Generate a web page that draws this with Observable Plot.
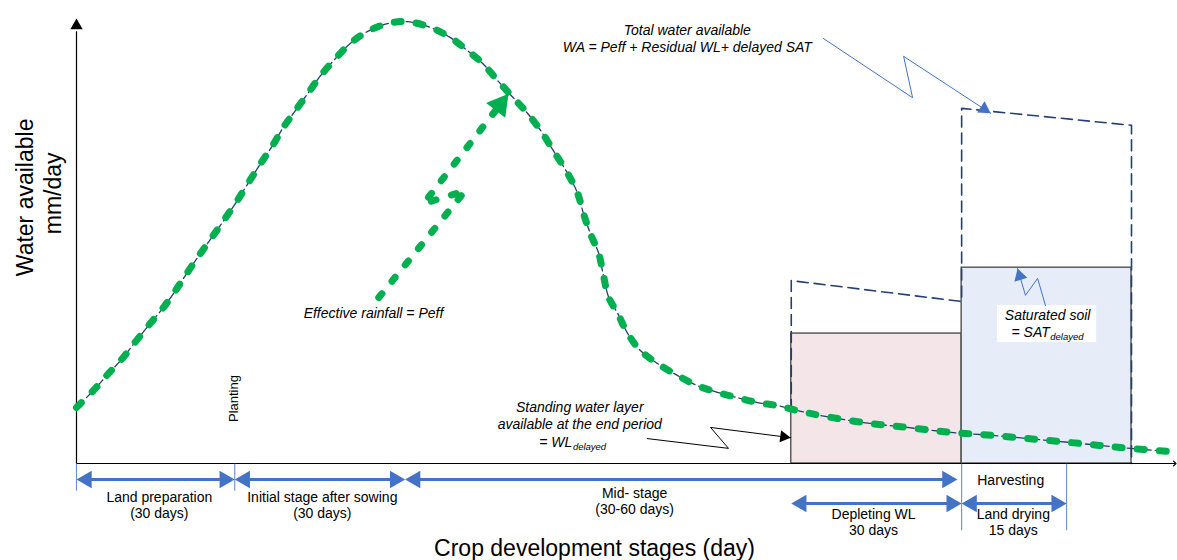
<!DOCTYPE html>
<html><head><meta charset="utf-8">
<script src="https://cdn.jsdelivr.net/npm/d3@7"></script>
<script src="https://cdn.jsdelivr.net/npm/@observablehq/plot@0.6"></script>
<style>body{margin:0;background:#fff} #chart svg{display:block}</style>
</head><body><div id="chart"></div>
<script>
// ---------- data (x: day, y: water available mm/day, arbitrary units) ----------
// Effective rainfall curve
const peffDay = [0,3.2,5.9,8.7,11.2,14.0,16.5,18.8,21.0,23.5,25.9,28.2,30.5,32.6,34.9,37.2,39.2,41.5,44.0,46.3,49.1,51.9,55.2,59.1,62.7,67.1,70.9,74.1,77.0,79.8,82.8,85.5,88.0,90.4,93.1,95.0,96.1,97.4,99.0,99.9,100.9,102.6,104.5,106.9,110.1,113.9,117.7,121.5,125.3,129.1,132.9,136.7,141.0,149.2,157.5,165.7,173.8,182.2,190.3,197.9,207.0];
const peffValue = [12.6,16.4,20.0,23.6,27.4,31.5,35.1,38.9,42.9,47.2,51.2,55.1,59.1,63.1,67.4,71.5,75.5,79.3,83.4,87.2,91.0,94.4,97.1,98.9,99.3,98.0,95.7,92.8,89.9,86.1,82.2,78.7,74.8,70.3,65.2,60.7,56.2,51.7,47.2,42.2,37.3,33.7,29.2,25.4,22.5,19.8,17.5,16.0,14.8,13.7,13.0,11.9,10.8,9.2,8.1,7.0,6.3,5.4,4.5,3.6,2.7];
// Total water available envelope (dashed)
const waDay = [135.5,135.5,167.8,167.8,200,200];
const waValue = [11.9,41.1,36.4,79.8,76.0,0];
// Storage boxes
const boxNames = ["WL delayed","SAT delayed"];
const boxStart = [135.5,167.8];
const boxEnd = [167.8,200];
const boxTop = [29.2,44.0];
// Stage arrows
const stageNames = ["Land preparation","Initial stage after sowing","Mid- stage","Depleting WL","Land drying"];
const stageDurations = ["(30 days)","(30 days)","(30-60 days)","30 days","15 days"];
const stageStart = [0,30,62.3,135.5,167.8];
const stageEnd = [30,62.3,167.0,167.8,187.7];
const stageRow = [1,1,1,2,2];
const stageLabelDay = [15.7,46.6,105.8,151.1,177.6];
// Stage boundary ticks
const tickDay = [0,30,167.8,187.7];
const tickRow = [1,1,2,2];
// Effective-rainfall arrow (lightning shape)
const rainDay = [57.3,73.7,65.8,81.9];
const rainValue = [37.3,61.3,58.4,83.1];
// Callout lightning lines
const waCallDay = [141.6,158.5,156.8,173.3];
const waCallValue = [95.5,82.2,91.5,78.7];
const wlCallDay = [108.2,123.6,120.2,135.4];
const wlCallValue = [5.6,3.4,8.1,5.8];
const satCallDay = [183.7,182.2,179.9,178.4];
const satCallValue = [35.5,41.6,37.8,43.8];

// ---------- layout ----------
const W = 1177, H = 560, mL = 76, mR = 46, mT = 18, mB = 97;
const X0 = 0, X1 = 200, Y0 = 0, Y1 = 100;
const kx = (W - mL - mR) / (X1 - X0), ky = (H - mT - mB) / (Y1 - Y0);
const py = p => (H - mB - p) / ky; // pixel offset helper for annotation rows
const rowY = {1: -3.6, 2: -9.0};
const tickLow = {1: -6.1, 2: -15.0};

const zip = (xs, ys) => xs.map((x, i) => ({x, y: ys[i]}));
const peff = zip(peffDay, peffValue);
const wa = zip(waDay, waValue);
const rain = zip(rainDay, rainValue);
const waCall = zip(waCallDay, waCallValue);
const wlCall = zip(wlCallDay, wlCallValue);
const satCall = zip(satCallDay, satCallValue);
const boxes = boxNames.map((n, i) => ({name: n, x1: boxStart[i], x2: boxEnd[i], y1: 0, y2: boxTop[i]}));
const stages = stageNames.map((n, i) => ({name: n, dur: stageDurations[i], x1: stageStart[i], x2: stageEnd[i], row: stageRow[i], lx: stageLabelDay[i]}));
const ticks = tickDay.map((d, i) => ({x: d, row: tickRow[i]}));

// arrowhead (triangle dot) whose tip lands at p1, pointing along p0->p1
function head(p0, p1, r) {
  const dxp = (p1.x - p0.x) * kx, dyp = -(p1.y - p0.y) * ky;
  const len = Math.hypot(dxp, dyp), ux = dxp / len, uy = dyp / len;
  const off = 1.555 * r;
  return {x: p1.x - ux * off / kx, y: p1.y + uy * off / ky, rotate: Math.atan2(ux, -uy) * 180 / Math.PI};
}
const last2 = a => [a[a.length - 2], a[a.length - 1]];
const stageHeads = stages.flatMap(s => {
  const y = rowY[s.row];
  return [head({x: s.x2, y}, {x: s.x1, y}, 6.5), head({x: s.x1, y}, {x: s.x2, y}, 6.5)];
});

const blue = "#4472C4", navy = "#243F73", green = "#00B050";
const font = "'Liberation Sans', Arial, Helvetica, sans-serif";

const chart = Plot.plot({
  width: W, height: H, marginLeft: mL, marginRight: mR, marginTop: mT, marginBottom: mB,
  x: {domain: [X0, X1], axis: null},
  y: {domain: [Y0, Y1], axis: null},
  color: {domain: boxNames, range: ["#F4E6E8", "#E6EDF8"]},
  style: {fontFamily: font, background: "#fff", overflow: "visible"},
  marks: [
    // storage boxes
    Plot.rect(boxes, {x1: "x1", x2: "x2", y1: "y1", y2: "y2", fill: "name", stroke: "#505050", strokeWidth: 1.4}),
    // total water envelope
    Plot.line(wa, {x: "x", y: "y", stroke: navy, strokeWidth: 1.6, strokeDasharray: "11,6"}),
    // axes
    Plot.ruleX([0], {y1: 0, y2: 97, stroke: "#000", strokeWidth: 1.2}),
    Plot.dot([head({x: 0, y: 90}, {x: 0, y: 100}, 4.6)], {x: "x", y: "y", rotate: "rotate", symbol: "triangle", r: 4.6, fill: "#000"}),
    Plot.line([{x: 0, y: 0}, {x: 208.2, y: 0}], {x: "x", y: "y", stroke: "#000", strokeWidth: 1.2, markerEnd: "arrow"}),
    // effective rainfall curve
    Plot.line(peff, {x: "x", y: "y", curve: "catmull-rom", stroke: navy, strokeWidth: 1.3, strokeDasharray: "10,4"}),
    Plot.line(peff, {x: "x", y: "y", curve: "catmull-rom", stroke: green, strokeWidth: 7, strokeDasharray: "7,15", strokeLinecap: "round"}),
    // rain arrow
    Plot.line(rain.slice(0, -1).concat([head(...last2(rain), 6)]), {x: "x", y: "y", stroke: green, strokeWidth: 7, strokeDasharray: "5,16", strokeLinecap: "round"}),
    Plot.dot([head(...last2(rain), 9)], {x: "x", y: "y", rotate: "rotate", symbol: "triangle", r: 9, fill: green}),
    // callouts
    Plot.line(waCall, {x: "x", y: "y", stroke: blue, strokeWidth: 1}),
    Plot.dot([head(...last2(waCall), 5)], {x: "x", y: "y", rotate: "rotate", symbol: "triangle", r: 5, fill: blue}),
    Plot.line(wlCall, {x: "x", y: "y", stroke: "#000", strokeWidth: 1}),
    Plot.dot([head(...last2(wlCall), 4.5)], {x: "x", y: "y", rotate: "rotate", symbol: "triangle", r: 4.5, fill: "#000"}),
    // saturated soil label box
    Plot.rect([{x1: 174.6, x2: 193.4, y1: 27.2, y2: 35.5}], {x1: "x1", x2: "x2", y1: "y1", y2: "y2", fill: "#fff"}),
    Plot.line(satCall, {x: "x", y: "y", stroke: blue, strokeWidth: 1}),
    Plot.dot([head(...last2(satCall), 5)], {x: "x", y: "y", rotate: "rotate", symbol: "triangle", r: 5, fill: blue}),
    // stage ticks and arrows
    Plot.link(ticks, {x1: "x", x2: "x", y1: 0, y2: d => tickLow[d.row], stroke: blue, strokeOpacity: 0.8, strokeWidth: 1.1}),
    Plot.link(stages, {x1: d => d.x1 + 2.2, x2: d => d.x2 - 2.2, y1: d => rowY[d.row], y2: d => rowY[d.row], stroke: blue, strokeWidth: 3}),
    Plot.dot(stageHeads, {x: "x", y: "y", rotate: "rotate", symbol: "triangle", r: 6.5, fill: blue}),
    // stage labels
    Plot.text(stages, {x: "lx", y: d => d.row === 1 ? (d.name === "Mid- stage" ? -8.4 : -9.2) : -13.1, text: d => d.name + "\n" + d.dur, fontSize: 14, lineHeight: 1.17, fill: "#000"}),
    Plot.text(["Harvesting"], {x: 177.1, y: -3.8, text: d => d, fontSize: 14, fill: "#000"}),
    Plot.text(["Planting"], {x: 29.8, y: 14.6, text: d => d, fontSize: 13, rotate: -90, fill: "#000"}),
    // annotations
    Plot.text(["Total water available\nWA = Peff + Residual WL+ delayed SAT"], {x: 115.8, y: 95.6, text: d => d, fontSize: 14, fontStyle: "italic", lineHeight: 1.2, fill: "#000"}),
    Plot.text(["Effective rainfall = Peff"], {x: 56.3, y: 33.7, text: d => d, fontSize: 14, fontStyle: "italic", fill: "#000"}),
    Plot.text(["Standing water layer\navailable at the end period"], {x: 95.4, y: 10.9, text: d => d, fontSize: 14, fontStyle: "italic", lineHeight: 1.2, fill: "#000"}),
    Plot.text(["= WL"], {x: 94.0, y: 4.7, text: d => d, fontSize: 14, fontStyle: "italic", textAnchor: "end", fill: "#000"}),
    Plot.text(["delayed"], {x: 94.1, y: 3.7, text: d => d, fontSize: 9.5, fontStyle: "italic", textAnchor: "start", fill: "#000"}),
    Plot.text(["Saturated soil"], {x: 184.1, y: 33.3, text: d => d, fontSize: 14, fontStyle: "italic", fill: "#000"}),
    Plot.text(["= SAT"], {x: 184.5, y: 29.4, text: d => d, fontSize: 14, fontStyle: "italic", textAnchor: "end", fill: "#000"}),
    Plot.text(["delayed"], {x: 184.6, y: 28.4, text: d => d, fontSize: 9.5, fontStyle: "italic", textAnchor: "start", fill: "#000"}),
    // axis titles
    Plot.text(["Crop development stages (day)"], {x: 98.2, y: -19.1, text: d => d, fontSize: 23, fill: "#000"}),
    Plot.text(["Water available"], {x: -9.7, y: 59.8, text: d => d, fontSize: 23, rotate: -90, fill: "#000"}),
    Plot.text(["mm/day"], {x: -4.3, y: 60.7, text: d => d, fontSize: 23, rotate: -90, fill: "#000"})
  ]
});
document.getElementById("chart").appendChild(chart);
</script></body></html>
